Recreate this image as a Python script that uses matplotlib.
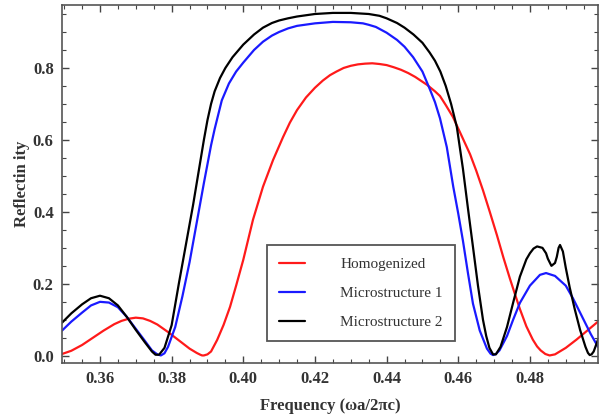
import numpy as np
import matplotlib
matplotlib.use("Agg")
import matplotlib.pyplot as plt
from matplotlib.ticker import MultipleLocator

plt.rcParams["font.family"] = ["Liberation Serif", "DejaVu Serif"]

# Homogenized (red)
freq_homog = [0.3494, 0.352, 0.355, 0.358, 0.361, 0.364, 0.366, 0.368, 0.370,
              0.372, 0.374, 0.376, 0.379, 0.382, 0.385, 0.387, 0.388, 0.3885,
              0.389, 0.390, 0.391, 0.3927, 0.3945, 0.3963, 0.398, 0.400, 0.4027,
              0.4055, 0.4083, 0.4111, 0.413, 0.415, 0.4175, 0.420, 0.4222,
              0.4242, 0.426, 0.428, 0.430, 0.432, 0.434, 0.436, 0.438, 0.440,
              0.442, 0.444, 0.446, 0.448, 0.4513, 0.4535, 0.4549, 0.4565,
              0.4585, 0.461, 0.4633, 0.465, 0.4669, 0.4688, 0.4708, 0.4726,
              0.4744, 0.4758, 0.4772, 0.479, 0.4808, 0.482, 0.483, 0.4843,
              0.4855, 0.487, 0.490, 0.493, 0.496, 0.499]
refl_homog = [0.005, 0.014, 0.030, 0.050, 0.070, 0.088, 0.097, 0.103, 0.106,
              0.104, 0.097, 0.087, 0.066, 0.043, 0.020, 0.008, 0.003, 0.001,
              0.001, 0.004, 0.012, 0.044, 0.086, 0.136, 0.195, 0.267, 0.378,
              0.470, 0.544, 0.608, 0.648, 0.683, 0.718, 0.745, 0.765,
              0.780, 0.790, 0.800, 0.806, 0.810, 0.812, 0.813, 0.811, 0.808,
              0.802, 0.795, 0.786, 0.775, 0.753, 0.735, 0.722, 0.697,
              0.664, 0.610, 0.560, 0.515, 0.460, 0.400, 0.335, 0.273,
              0.215, 0.172, 0.130, 0.082, 0.045, 0.026, 0.015, 0.005,
              0.001, 0.004, 0.022, 0.045, 0.070, 0.095]

# Microstructure 1 (blue)
freq_micro1 = [0.3494, 0.352, 0.355, 0.3575, 0.360, 0.3625, 0.365, 0.3675, 0.370,
               0.3725, 0.3745, 0.376, 0.377, 0.378, 0.379, 0.381, 0.383, 0.385,
               0.387, 0.389, 0.391, 0.392, 0.394, 0.396, 0.398, 0.400, 0.403,
               0.4055, 0.408, 0.410, 0.4125, 0.415, 0.420, 0.425, 0.430, 0.4334,
               0.435, 0.437, 0.440, 0.4429, 0.445, 0.4474, 0.450, 0.4521, 0.4535,
               0.4549, 0.4568, 0.4586, 0.460, 0.4613, 0.4627, 0.4641, 0.466,
               0.468, 0.469, 0.4697, 0.4705, 0.4715, 0.4736, 0.4753, 0.4772,
               0.480, 0.4828, 0.4845, 0.487, 0.490, 0.492, 0.494, 0.497, 0.499]
refl_micro1 = [0.070, 0.095, 0.120, 0.140, 0.150, 0.148, 0.135, 0.108, 0.075,
               0.042, 0.015, 0.004, 0.001, 0.007, 0.025, 0.080, 0.165, 0.260,
               0.370, 0.480, 0.585, 0.630, 0.710, 0.757, 0.790, 0.815, 0.850,
               0.873, 0.890, 0.900, 0.910, 0.917, 0.924, 0.928, 0.927, 0.924,
               0.920, 0.914, 0.898, 0.878, 0.859, 0.830, 0.790, 0.740, 0.705,
               0.660, 0.580, 0.470, 0.395, 0.320, 0.230, 0.145, 0.070,
               0.020, 0.006, 0.002, 0.005, 0.015, 0.055, 0.100, 0.147,
               0.195, 0.225, 0.230, 0.222, 0.195, 0.160, 0.120, 0.060, 0.025]

# Microstructure 2 (black)
freq_micro2 = [0.3494, 0.352, 0.355, 0.3575, 0.360, 0.3625, 0.365, 0.3675, 0.370,
               0.3725, 0.3745, 0.3755, 0.3765, 0.378, 0.380, 0.382, 0.384, 0.386,
               0.388, 0.389, 0.390, 0.391, 0.392, 0.3935, 0.395, 0.397, 0.400,
               0.403, 0.4055, 0.408, 0.410, 0.4125, 0.415, 0.420, 0.425, 0.430,
               0.435, 0.438, 0.440, 0.4429, 0.445, 0.4475, 0.450, 0.452, 0.4535,
               0.455, 0.4565, 0.458, 0.4596, 0.4613, 0.4627, 0.4641, 0.4655,
               0.4669, 0.4678, 0.4687, 0.4697, 0.4705, 0.4718, 0.4736, 0.4753,
               0.4772, 0.479, 0.480, 0.481, 0.482, 0.4835, 0.4845, 0.485, 0.486,
               0.487, 0.4875, 0.488, 0.4884, 0.4892, 0.490, 0.4911, 0.4925,
               0.494, 0.4955, 0.4962, 0.4967, 0.4972, 0.4978, 0.499]
refl_micro2 = [0.092, 0.118, 0.143, 0.160, 0.167, 0.160, 0.140, 0.108, 0.072,
               0.038, 0.012, 0.003, 0.003, 0.022, 0.085, 0.200, 0.310, 0.420,
               0.540, 0.600, 0.655, 0.700, 0.735, 0.772, 0.800, 0.830, 0.865,
               0.893, 0.912, 0.925, 0.932, 0.938, 0.943, 0.950, 0.953, 0.953,
               0.950, 0.945, 0.938, 0.925, 0.912, 0.893, 0.870, 0.843, 0.820,
               0.790, 0.750, 0.700, 0.636, 0.520, 0.410, 0.303, 0.195,
               0.100, 0.055, 0.022, 0.004, 0.004, 0.025, 0.080, 0.147,
               0.220, 0.268, 0.285, 0.298, 0.304, 0.300, 0.285, 0.270, 0.250,
               0.258, 0.275, 0.300, 0.308, 0.290, 0.245, 0.190, 0.130,
               0.072, 0.025, 0.008, 0.002, 0.004, 0.012, 0.045]

x_ticks = [0.36, 0.38, 0.40, 0.42, 0.44, 0.46, 0.48]
x_tick_labels = ["0.36", "0.38", "0.40", "0.42", "0.44", "0.46", "0.48"]
y_ticks = [0.0, 0.2, 0.4, 0.6, 0.8]
y_tick_labels = ["0.0", "0.2", "0.4", "0.6", "0.8"]

fig = plt.figure(figsize=(6.04, 4.17), dpi=100)
ax = fig.add_axes([62 / 604, 1 - 363 / 417, 536 / 604, 358 / 417])

style = dict(lw=1.6, solid_joinstyle="round", solid_capstyle="round")
ax.plot(freq_homog, refl_homog, color="#ff1a1a", label="Homogenized", **style)
ax.plot(freq_micro1, refl_micro1, color="#1a1aff", label="Microstructure 1", **style)
ax.plot(freq_micro2, refl_micro2, color="black", label="Microstructure 2", **style)

ax.set_xlim(0.3494, 0.499)
ax.set_ylim(-0.02, 0.975)
ax.set_xticks(x_ticks)
ax.set_xticklabels(x_tick_labels)
ax.set_yticks(y_ticks)
ax.set_yticklabels(y_tick_labels)
ax.xaxis.set_minor_locator(MultipleLocator(0.005))
ax.yaxis.set_minor_locator(MultipleLocator(0.05))
ax.tick_params(which="both", direction="in", top=True, right=True,
               colors="#444444", labelcolor="#333333")
ax.tick_params(which="major", length=5, width=1, labelsize=12, pad=6)
ax.tick_params(which="minor", length=3, width=0.8)
for lab in ax.get_xticklabels() + ax.get_yticklabels():
    lab.set_fontweight("bold")
for spine in ax.spines.values():
    spine.set_edgecolor("#555555")
    spine.set_linewidth(1.2)

ax.set_xlabel("Frequency (ωa/2πc)", fontsize=12, fontweight="bold",
              color="#333333", labelpad=8)
ax.set_ylabel("Reflectin ity", fontsize=12, fontweight="bold",
              color="#333333", labelpad=2)

leg = ax.legend(loc="upper left", bbox_to_anchor=(267 / 604, 1 - 245 / 417),
                bbox_transform=fig.transFigure, borderaxespad=0,
                fancybox=False, framealpha=1, edgecolor="#555555",
                fontsize=11, handlelength=1.7, handletextpad=2.3,
                labelspacing=1.0, borderpad=0.8)
leg.get_frame().set_linewidth(1.3)
for t in leg.get_texts():
    t.set_color("#333333")

fig.savefig("out.png", dpi=100)
